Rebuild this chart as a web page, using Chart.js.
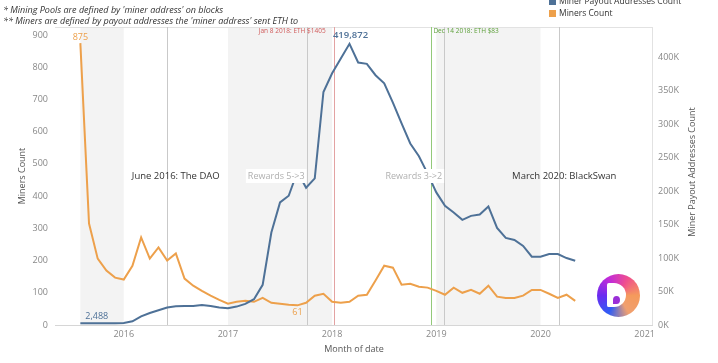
<!DOCTYPE html>
<html>
<head>
<meta charset="utf-8">
<script src="https://cdn.jsdelivr.net/npm/chart.js@4.4.1/dist/chart.umd.min.js"></script>
<style>
  html, body { margin: 0; padding: 0; background: #fff; }
  #wrap { position: relative; width: 718px; height: 363px; overflow: hidden; font-family: "Open Sans", sans-serif; }
  #chart { position: absolute; left: 0; top: 0; }
  .note { position: absolute; left: 3px; font-size: 9px; font-style: italic; color: #333; white-space: nowrap; line-height: 11px; }
  .legend { position: absolute; left: 549px; top: -5px; font-size: 8.5px; color: #333; line-height: 11.5px; white-space: nowrap; }
  .legend span { display: inline-block; width: 7px; height: 7px; margin-right: 3px; vertical-align: -1px; }
  .logo { position: absolute; left: 597px; top: 274px; width: 43px; height: 43px; border-radius: 50%;
          background: conic-gradient(from 210deg, #2f5cf5, #6a2cf0, #c22bd8, #f0508c, #f59a5c, #f0a070, #2f5cf5); }
  .logo .d { position: absolute; left: 10px; top: 9px; width: 19px; height: 24px; background: #fff; border-radius: 2px 13px 13px 2px; }
  .logo .dot { position: absolute; left: 16px; top: 22px; width: 7px; height: 8px; background: #9a2fd8; border-radius: 50% 50% 50% 0; }
</style>
</head>
<body>
<div id="wrap">
  <canvas id="chart" width="718" height="363"></canvas>
  <div class="note" style="top:4px">* Mining Pools are defined by 'miner address' on blocks</div>
  <div class="note" style="top:15px">** Miners are defined by payout addresses the 'miner address' sent ETH to</div>
  <div class="legend">
    <div><span style="background:#4e7197"></span>Miner Payout Addresses Count</div>
    <div><span style="background:#eda04b"></span>Miners Count</div>
  </div>
  <div class="logo"><div class="d"></div><div class="dot"></div></div>
</div>
<script>
// monthly data, Aug 2015 .. May 2020
const months = [
    '2015-08', '2015-09', '2015-10', '2015-11', '2015-12',
    '2016-01', '2016-02', '2016-03', '2016-04', '2016-05', '2016-06', '2016-07', '2016-08', '2016-09', '2016-10', '2016-11', '2016-12',
    '2017-01', '2017-02', '2017-03', '2017-04', '2017-05', '2017-06', '2017-07', '2017-08', '2017-09', '2017-10', '2017-11', '2017-12',
    '2018-01', '2018-02', '2018-03', '2018-04', '2018-05', '2018-06', '2018-07', '2018-08', '2018-09', '2018-10', '2018-11', '2018-12',
    '2019-01', '2019-02', '2019-03', '2019-04', '2019-05', '2019-06', '2019-07', '2019-08', '2019-09', '2019-10', '2019-11', '2019-12',
    '2020-01', '2020-02', '2020-03', '2020-04', '2020-05'
];

const minersCount = [
    875, 315, 206, 169, 147,
    141, 184, 272, 206, 241, 200, 222, 144, 122, 106, 91, 78,
    66, 72, 75, 72, 84, 69, 66, 63, 61, 69, 91, 97,
    72, 69, 72, 91, 94, 138, 184, 178, 125, 128, 119, 116,
    106, 94, 116, 100, 109, 97, 122, 88, 84, 84, 91, 109,
    109, 97, 84, 94, 75
];

const payoutAddresses = [
    2488, 2500, 2550, 2600, 2700,
    3000, 5500, 13000, 18000, 22000, 26000, 28000, 28500, 28500, 30000, 28500, 26000,
    25000, 27500, 31500, 38500, 60000, 138000, 183000, 193000, 229000, 205000, 219000, 348000,
    376000, 398000, 419872, 392000, 390000, 373000, 361000, 332000, 301000, 271000, 252000, 226000,
    198000, 178000, 168000, 157000, 163000, 165000, 177000, 145000, 130000, 127000, 118000, 102000,
    102000, 106000, 106000, 100000, 96000
];

const yearTicks = [2016, 2017, 2018, 2019, 2020, 2021];
const minersTicks = [0, 100, 200, 300, 400, 500, 600, 700, 800, 900];
const payoutTicks = [0, 50000, 100000, 150000, 200000, 250000, 300000, 350000, 400000];

// alternating year bands
const bands = [[2015.583, 2016], [2017, 2018], [2019, 2020]];

// reference lines (decimal year)
const events = [
    { date: 2016.413, text: 'June 2016: The DAO' },
    { date: 2017.755, text: 'Rewards 5->3' },
    { date: 2018.015, text: 'Jan 8 2018: ETH $1405' },
    { date: 2018.953, text: 'Dec 14 2018: ETH $83' },
    { date: 2019.075, text: 'Rewards 3->2' },
    { date: 2020.18, text: 'March 2020: BlackSwan' }
];

const BLUE = '#4e7197';
const ORANGE = '#eda04b';
const FONT = '"Open Sans", sans-serif';

function toYear(m) {
    const [y, mo] = m.split('-').map(Number);
    return y + (mo - 1) / 12;
}

const minersPoints = months.map((m, i) => ({ x: toYear(m), y: minersCount[i] }));
const payoutPoints = months.map((m, i) => ({ x: toYear(m), y: payoutAddresses[i] }));

// how each event line / label is drawn
const eventStyles = [
    { line: '#c9c9c9', color: '#333', size: 9.5, row: 'mid', align: 'center', dx: 9 },
    { line: '#c9c9c9', color: '#b0b0b0', size: 9, row: 'mid', align: 'right', dx: -2, box: true },
    { line: '#e3a3a3', color: '#d05a5a', size: 6.5, row: 'top', align: 'right', dx: -8 },
    { line: '#93c97a', color: '#5da03a', size: 6.5, row: 'top', align: 'left', dx: 2 },
    { line: '#c9c9c9', color: '#b0b0b0', size: 9, row: 'mid', align: 'right', dx: -2, box: true },
    { line: '#c9c9c9', color: '#333', size: 9.5, row: 'mid', align: 'center', dx: 5 }
];

const overlays = {
    id: 'overlays',
    beforeDatasetsDraw(chart) {
        const { ctx, chartArea: a, scales: { x } } = chart;
        ctx.save();
        ctx.fillStyle = '#f3f3f3';
        bands.forEach(([s, e]) => {
            const x1 = x.getPixelForValue(s), x2 = x.getPixelForValue(e);
            ctx.fillRect(x1, a.top, x2 - x1, a.bottom - a.top);
        });
        // frame
        ctx.strokeStyle = '#e2e2e2';
        ctx.lineWidth = 1;
        ctx.beginPath();
        ctx.moveTo(a.left, a.top + 0.5); ctx.lineTo(a.right, a.top + 0.5);
        ctx.moveTo(a.right - 0.5, a.top); ctx.lineTo(a.right - 0.5, a.bottom);
        ctx.stroke();
        ctx.strokeStyle = '#d6d6d6';
        ctx.beginPath();
        ctx.moveTo(a.left, a.bottom + 0.5); ctx.lineTo(a.right, a.bottom + 0.5);
        ctx.stroke();
        events.forEach((ev, i) => {
            const px = Math.round(x.getPixelForValue(ev.date)) + 0.5;
            ctx.strokeStyle = eventStyles[i].line;
            ctx.beginPath();
            ctx.moveTo(px, a.top);
            ctx.lineTo(px, a.bottom);
            ctx.stroke();
        });
        ctx.restore();
    },
    afterDatasetsDraw(chart) {
        const { ctx, chartArea: a, scales: { x, y, y2 } } = chart;
        ctx.save();
        ctx.textBaseline = 'middle';
        events.forEach((ev, i) => {
            const st = eventStyles[i];
            const px = x.getPixelForValue(ev.date) + st.dx;
            const py = st.row === 'top' ? a.top + 4 : a.top + 149;
            ctx.font = st.size + 'px ' + FONT;
            ctx.textAlign = st.align;
            if (st.box) {
                const w = ctx.measureText(ev.text).width;
                const left = st.align === 'right' ? px - w : px - w / 2;
                ctx.fillStyle = '#fff';
                ctx.fillRect(left - 2, py - 7, w + 4, 14);
            }
            ctx.fillStyle = st.color;
            ctx.fillText(ev.text, px, py);
        });

        // data labels: first points, min of miners, max of payouts
        const fmt = v => v.toLocaleString('en-US');
        const mMeta = chart.getDatasetMeta(1).data;
        const pMeta = chart.getDatasetMeta(0).data;
        ctx.font = '9px ' + FONT;
        ctx.fillStyle = ORANGE;
        ctx.textAlign = 'center';
        ctx.textBaseline = 'bottom';
        ctx.fillText(fmt(minersCount[0]), mMeta[0].x, mMeta[0].y - 1);
        const minIdx = minersCount.indexOf(Math.min(...minersCount));
        ctx.textBaseline = 'top';
        ctx.fillText(fmt(minersCount[minIdx]), mMeta[minIdx].x, mMeta[minIdx].y + 3);

        ctx.fillStyle = BLUE;
        ctx.textAlign = 'left';
        ctx.textBaseline = 'bottom';
        ctx.fillText(fmt(payoutAddresses[0]), pMeta[0].x + 5, pMeta[0].y - 2);
        const maxIdx = payoutAddresses.indexOf(Math.max(...payoutAddresses));
        ctx.font = '600 9.5px ' + FONT;
        ctx.textAlign = 'center';
        ctx.fillText(fmt(payoutAddresses[maxIdx]), pMeta[maxIdx].x + 1, pMeta[maxIdx].y - 4);

        // right axis title, reading bottom to top like the left one
        ctx.translate(y2.right - 26, (a.top + a.bottom) / 2 - 4);
        ctx.rotate(-Math.PI / 2);
        ctx.font = '9px ' + FONT;
        ctx.fillStyle = '#555';
        ctx.textAlign = 'center';
        ctx.textBaseline = 'middle';
        ctx.fillText('Miner Payout Addresses Count', 0, 0);
        ctx.restore();
    }
};

const tickFont = { family: FONT, size: 9 };
const noGrid = { display: false, drawTicks: false };

new Chart(document.getElementById('chart'), {
    type: 'line',
    data: {
        datasets: [
            {
                label: 'Miner Payout Addresses Count',
                data: payoutPoints,
                yAxisID: 'y2',
                borderColor: BLUE,
                borderWidth: 2,
                pointRadius: 0,
                tension: 0
            },
            {
                label: 'Miners Count',
                data: minersPoints,
                yAxisID: 'y',
                borderColor: ORANGE,
                borderWidth: 2,
                pointRadius: 0,
                tension: 0
            }
        ]
    },
    options: {
        responsive: false,
        animation: false,
        layout: { padding: { top: 27, left: 0, right: 0, bottom: 0 } },
        plugins: {
            legend: { display: false },
            tooltip: { enabled: false }
        },
        scales: {
            x: {
                type: 'linear',
                min: 2015.34,
                max: 2021.08,
                afterBuildTicks: s => { s.ticks = yearTicks.map(v => ({ value: v })); },
                afterFit: s => { s.height = 38; },
                grid: noGrid,
                border: { display: false },
                ticks: { font: tickFont, color: '#888', padding: 4, maxRotation: 0, callback: v => String(v) },
                title: { display: true, text: 'Month of date', font: { family: FONT, size: 9 }, color: '#555', padding: { top: 0, bottom: 8 } }
            },
            y: {
                position: 'left',
                min: 0,
                max: 925,
                afterBuildTicks: s => { s.ticks = minersTicks.map(v => ({ value: v })); },
                afterFit: s => { s.width = 55; },
                grid: noGrid,
                border: { display: false },
                ticks: { font: tickFont, color: '#888', padding: 7 },
                title: { display: true, text: 'Miners Count', font: { family: FONT, size: 9 }, color: '#555', padding: { top: 17, bottom: 0 } }
            },
            y2: {
                position: 'right',
                min: 0,
                max: 445000,
                afterBuildTicks: s => { s.ticks = payoutTicks.map(v => ({ value: v })); },
                afterFit: s => { s.width = 65; },
                grid: noGrid,
                border: { display: false },
                ticks: { font: tickFont, color: '#888', padding: 5, callback: v => (v / 1000) + 'K' }
            }
        }
    },
    plugins: [overlays]
});
</script>
</body>
</html>
